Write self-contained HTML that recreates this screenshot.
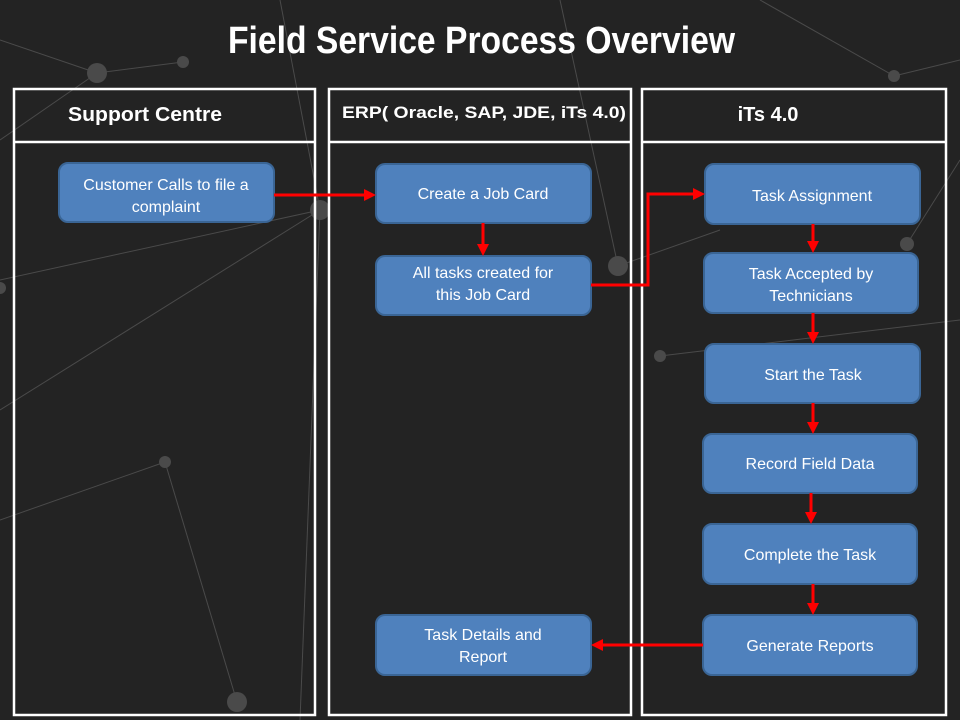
<!DOCTYPE html>
<html><head><style>
body{margin:0;background:#232323;width:960px;height:720px;overflow:hidden;font-family:"Liberation Sans",sans-serif}
</style></head><body>
<svg width="960" height="720" viewBox="0 0 960 720" xmlns="http://www.w3.org/2000/svg" style="position:absolute;left:0;top:0">
<rect width="960" height="720" fill="#232323"/>
<g stroke="#4a4a4a" stroke-width="1" fill="none">
<line x1="0" y1="40" x2="97" y2="73"/><line x1="97" y1="73" x2="183" y2="62"/><line x1="0" y1="140" x2="97" y2="73"/>
<line x1="0" y1="280" x2="320" y2="210"/><line x1="0" y1="410" x2="320" y2="210"/><line x1="165" y1="462" x2="237" y2="702"/>
<line x1="165" y1="462" x2="0" y2="520"/><line x1="320" y1="210" x2="280" y2="0"/><line x1="320" y1="210" x2="300" y2="720"/>
<line x1="618" y1="266" x2="720" y2="230"/><line x1="660" y1="356" x2="960" y2="320"/><line x1="894" y1="76" x2="960" y2="60"/>
<line x1="907" y1="244" x2="960" y2="160"/><line x1="760" y1="0" x2="894" y2="76"/><line x1="618" y1="266" x2="560" y2="0"/>
</g>
<g fill="#4a4a4a">
<circle cx="97" cy="73" r="10"/><circle cx="183" cy="62" r="6"/><circle cx="320" cy="210" r="10"/><circle cx="165" cy="462" r="6"/>
<circle cx="237" cy="702" r="10"/><circle cx="618" cy="266" r="10"/><circle cx="660" cy="356" r="6"/><circle cx="907" cy="244" r="7"/>
<circle cx="894" cy="76" r="6"/><circle cx="0" cy="288" r="6"/>
</g>
<text x="228" y="53" fill="#fff" font-size="38" font-weight="bold" textLength="507" lengthAdjust="spacingAndGlyphs">Field Service Process Overview</text>
<g stroke="#fff" stroke-width="2.5" fill="none">
<rect x="14" y="89" width="301" height="626"/><line x1="14" y1="142" x2="315" y2="142"/>
<rect x="329" y="89" width="302" height="626"/><line x1="329" y1="142" x2="631" y2="142"/>
<rect x="642" y="89" width="304" height="626"/><line x1="642" y1="142" x2="946" y2="142"/>
</g>
<g fill="#fff" font-weight="bold">
<text x="68" y="121" font-size="20" textLength="154" lengthAdjust="spacingAndGlyphs">Support Centre</text>
<text x="342" y="118" font-size="17" textLength="284" lengthAdjust="spacingAndGlyphs">ERP( Oracle, SAP, JDE, iTs 4.0)</text>
<text x="768" y="121" font-size="20" text-anchor="middle">iTs 4.0</text>
</g>
<g fill="#4f81bd" stroke="#3a6595" stroke-width="2">
<rect x="59" y="163" width="215" height="59" rx="9"/>
<rect x="376" y="164" width="215" height="59" rx="9"/>
<rect x="376" y="256" width="215" height="59" rx="9"/>
<rect x="705" y="164" width="215" height="60" rx="9"/>
<rect x="704" y="253" width="214" height="60" rx="9"/>
<rect x="705" y="344" width="215" height="59" rx="9"/>
<rect x="703" y="434" width="214" height="59" rx="9"/>
<rect x="703" y="524" width="214" height="60" rx="9"/>
<rect x="703" y="615" width="214" height="60" rx="9"/>
<rect x="376" y="615" width="215" height="60" rx="9"/>
</g>
<g fill="#fff" font-size="16" text-anchor="middle">
<text x="166" y="190">Customer Calls to file a</text><text x="166" y="212">complaint</text>
<text x="483" y="199">Create a Job Card</text>
<text x="483" y="278">All tasks created for</text><text x="483" y="300">this Job Card</text>
<text x="812" y="201">Task Assignment</text>
<text x="811" y="279">Task Accepted by</text><text x="811" y="301">Technicians</text>
<text x="813" y="380">Start the Task</text>
<text x="810" y="469">Record Field Data</text>
<text x="810" y="560">Complete the Task</text>
<text x="810" y="651">Generate Reports</text>
<text x="483" y="640">Task Details and</text><text x="483" y="662">Report</text>
</g>
<g stroke="#f00" stroke-width="3" fill="none">
<line x1="274" y1="195" x2="366" y2="195"/>
<line x1="483" y1="223" x2="483" y2="246"/>
<polyline points="591,285 648,285 648,194 695,194"/>
<line x1="813" y1="224" x2="813" y2="243"/>
<line x1="813" y1="313" x2="813" y2="334"/>
<line x1="813" y1="403" x2="813" y2="424"/>
<line x1="811" y1="493" x2="811" y2="514"/>
<line x1="813" y1="584" x2="813" y2="605"/>
<line x1="703" y1="645" x2="601" y2="645"/>
</g>
<g fill="#f00">
<polygon points="376,195 364,189 364,201"/>
<polygon points="483,256 477,244 489,244"/>
<polygon points="705,194 693,188 693,200"/>
<polygon points="813,253 807,241 819,241"/>
<polygon points="813,344 807,332 819,332"/>
<polygon points="813,434 807,422 819,422"/>
<polygon points="811,524 805,512 817,512"/>
<polygon points="813,615 807,603 819,603"/>
<polygon points="591,645 603,639 603,651"/>
</g>
</svg>
</body></html>
